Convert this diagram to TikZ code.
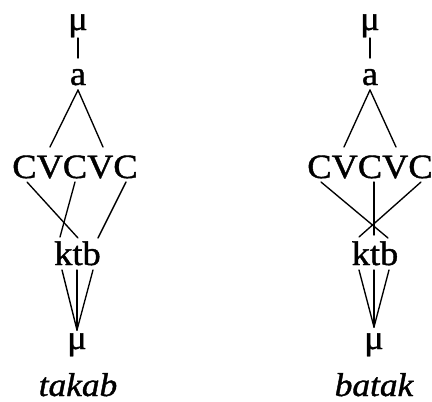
\documentclass[tikz,border=0pt]{standalone}
\usepackage{fontspec}
\setmainfont[FakeStretch=1.07,FakeBold=1.2]{Liberation Serif}
\begin{document}
\begin{tikzpicture}[x=1pt,y=1pt,
  lbl/.style={anchor=base,inner sep=0pt,font=\fontsize{34}{40}\selectfont},
  wordlbl/.style={anchor=base,inner sep=0pt,font=\fontsize{33}{40}\selectfont\itshape},
  edge/.style={line width=1.35pt,line cap=round}]
\useasboundingbox (0,0) rectangle (432,-402);
% left tree (takab)
\node[lbl] (muTL) at (78,-30) {μ};
\node[lbl] (aL) at (78,-85) {a};
\node[lbl] (cvL) at (75,-178) {CVCVC};
\node[lbl] (ktbL) at (77.5,-265) {ktb};
\node[lbl] (muBL) at (77,-349) {μ};
\node[wordlbl] (wL) at (78,-396) {takab};
\draw[edge] ([yshift=-8pt]muTL.base) -- ([yshift=27pt]aL.base);
\draw[edge] ([yshift=-5pt]aL.base) -- ([shift={(-25pt,31pt)}]cvL.base);
\draw[edge] ([yshift=-5pt]aL.base) -- ([shift={(28pt,31pt)}]cvL.base);
\draw[edge] ([shift={(-48pt,-4pt)}]cvL.base) -- ([shift={(0.5pt,27pt)}]ktbL.base);
\draw[edge] ([shift={(0pt,-4pt)}]cvL.base) -- ([shift={(-17.5pt,28pt)}]ktbL.base);
\draw[edge] ([shift={(51pt,-4pt)}]cvL.base) -- ([shift={(20.5pt,27pt)}]ktbL.base);
\draw[edge] ([shift={(-15.5pt,-5pt)}]ktbL.base) -- ([yshift=19pt]muBL.base);
\draw[edge] ([shift={(-0.5pt,-5pt)}]ktbL.base) -- ([yshift=19pt]muBL.base);
\draw[edge] ([shift={(15.5pt,-5pt)}]ktbL.base) -- ([yshift=19pt]muBL.base);
% right tree (batak)
\node[lbl] (muTR) at (370,-30) {μ};
\node[lbl] (aR) at (370,-85) {a};
\node[lbl] (cvR) at (370,-178) {CVCVC};
\node[lbl] (ktbR) at (375,-265) {ktb};
\node[lbl] (muBR) at (374,-349) {μ};
\node[wordlbl] (wR) at (374,-396) {batak};
\draw[edge] ([yshift=-8pt]muTR.base) -- ([yshift=27pt]aR.base);
\draw[edge] ([yshift=-5pt]aR.base) -- ([shift={(-26pt,31pt)}]cvR.base);
\draw[edge] ([yshift=-5pt]aR.base) -- ([shift={(26pt,31pt)}]cvR.base);
\draw[edge] ([shift={(-49pt,-4pt)}]cvR.base) -- ([shift={(13pt,27pt)}]ktbR.base);
\draw[edge] ([shift={(51pt,-4pt)}]cvR.base) -- ([shift={(-16pt,28pt)}]ktbR.base);
\draw[edge] ([shift={(4pt,-4pt)}]cvR.base) -- ([shift={(-1pt,30pt)}]ktbR.base);
\draw[edge] ([shift={(-16pt,-5pt)}]ktbR.base) -- ([yshift=22pt]muBR.base);
\draw[edge] ([shift={(-1pt,-5pt)}]ktbR.base) -- ([yshift=22pt]muBR.base);
\draw[edge] ([shift={(14pt,-5pt)}]ktbR.base) -- ([yshift=22pt]muBR.base);
\end{tikzpicture}
\end{document}
